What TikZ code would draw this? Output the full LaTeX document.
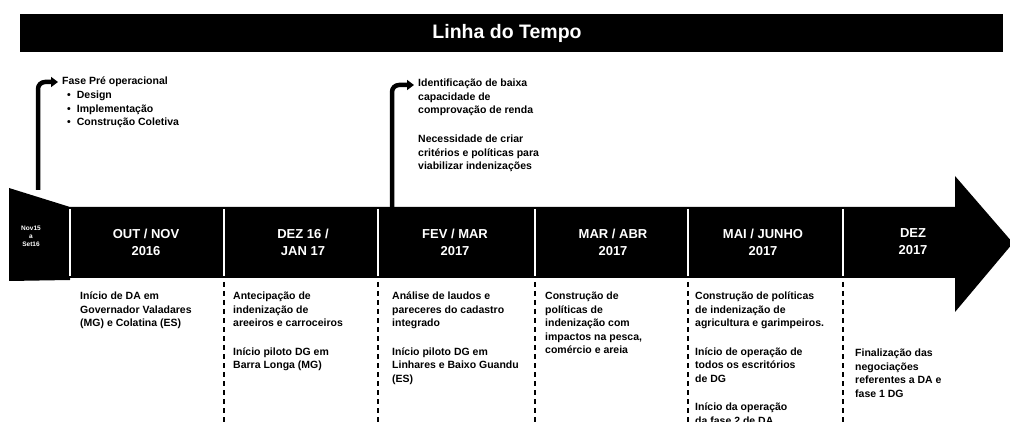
\documentclass[tikz,border=0pt]{standalone}
\usepackage{fontspec}
\setmainfont{Liberation Sans}
\usetikzlibrary{arrows.meta}

\tikzset{
	period/.style={white, font=\bfseries\fontsize{13}{17}\selectfont, align=center},
	note/.style={anchor=north west, inner sep=0pt, align=left, font=\bfseries\fontsize{10.5}{13.5}\selectfont},
	callout/.style={line width=4.5pt, rounded corners=7pt, -{Triangle[length=7pt, width=10pt]}},
	divider/.style={white, line width=1.5pt},
	colsep/.style={line width=1.5pt, dash pattern=on 5pt off 4pt}
}

\begin{document}
\begin{tikzpicture}[x=1pt, y=-1pt]
	\clip (0,0) rectangle (1010,422);
	\fill[black] (20,14) rectangle (1003,52);
	\node[white, font=\bfseries\fontsize{19.5}{21}\selectfont] (title) at (507,33) {Linha do Tempo};
	
	\fill[black] (9,188) -- (70,207) -- (70,280) -- (9,281) -- cycle;
	\fill[black] (70,207) -- (955,207) -- (955,176) -- (1013,243) -- (955,312) -- (955,278) -- (70,278) -- cycle;
	
	\foreach \x in {70,224,378,535,688,843} {\draw[divider] (\x,209) -- (\x,276);}
	\foreach \x in {224,378,535,688,843} {\draw[colsep] (\x,282) -- (\x,424);}
	
	\node[white, font=\bfseries\fontsize{6.5}{8}\selectfont, align=center] (start) at (31,236) {Nov15\\a\\Set16};
	\foreach \x/\t [count=\i] in {146/{OUT / NOV\\2016}, 303/{DEZ 16 /\\JAN 17}, 455/{FEV / MAR\\2017}, 613/{MAR / ABR\\2017}, 763/{MAI / JUNHO\\2017}, 913/{DEZ\\2017}} {
		\node[period] (p\i) at (\x,242) {\t};
	}
	
	\coordinate (ann1) at (38,190);
	\coordinate (ann2) at (392,207);
	
	\node[note, anchor=west] (fase) at (62,82) {Fase Pré operacional};
	\node[note] (etapas) at (67,91) {\textbullet\hspace{6pt}Design\\\textbullet\hspace{6pt}Implementação\\\textbullet\hspace{6pt}Construção Coletiva};
	\draw[callout] (ann1) |- ([xshift=-4pt]fase.west);
	
	\node[note] (ident) at (418,79) {Identificação de baixa\\capacidade de\\comprovação de renda};
	\node[note] (criterios) at (418,135) {Necessidade de criar\\critérios e políticas para\\viabilizar indenizações};
	\draw[callout] (ann2) |- ([xshift=-4pt, yshift=-6pt]ident.north west);
	
	\node[note] (c1) at (80,292) {Início de DA em\\Governador Valadares\\(MG) e Colatina (ES)};
	\node[note] (c2) at (233,292) {Antecipação de\\indenização de\\areeiros e carroceiros\\[15pt]Início piloto DG em\\Barra Longa (MG)};
	\node[note] (c3) at (392,292) {Análise de laudos e\\pareceres do cadastro\\integrado\\[15pt]Início piloto DG em\\Linhares e Baixo Guandu\\(ES)};
	\node[note] (c4) at (545,292) {Construção de\\políticas de\\indenização com\\impactos na pesca,\\comércio e areia};
	\node[note] (c5) at (695,292) {Construção de políticas\\de indenização de\\agricultura e garimpeiros.\\[15pt]Início de operação de\\todos os escritórios\\de DG\\[15pt]Início da operação\\da fase 2 de DA};
	\node[note] (c6) at (855,349) {Finalização das\\negociações\\referentes a DA e\\fase 1 DG};
\end{tikzpicture}
\end{document}
